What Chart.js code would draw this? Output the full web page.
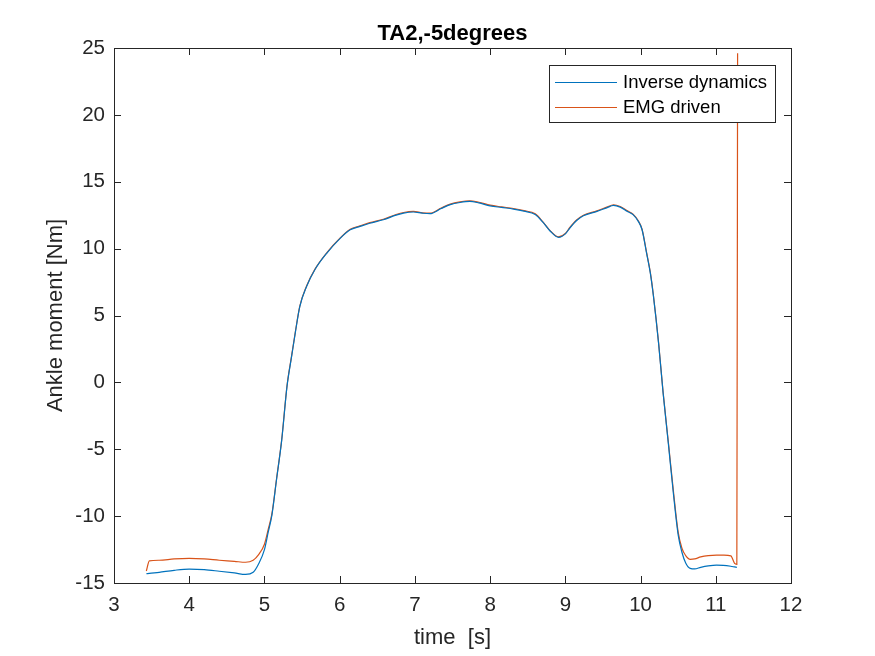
<!DOCTYPE html>
<html>
<head>
<meta charset="utf-8">
<script src="https://cdn.jsdelivr.net/npm/chart.js@4.4.1/dist/chart.umd.min.js"></script>
<style>
  html, body { margin: 0; padding: 0; background: #fff; }
  #wrap { width: 875px; height: 656px; position: relative; }
</style>
</head>
<body>
<div id="wrap"><canvas id="chart"></canvas></div>
<script>
// ---- data ----
const timeS = [3.43, 3.47, 3.6, 3.8, 4.0, 4.2, 4.4, 4.6, 4.75, 4.85, 4.92, 5.0, 5.05, 5.1, 5.16, 5.23, 5.3, 5.36, 5.41, 5.47, 5.56, 5.67, 5.83, 6.01, 6.14, 6.27, 6.4, 6.58, 6.75, 6.85, 6.98, 7.1, 7.2, 7.35, 7.47, 7.6, 7.73, 7.85, 8.0, 8.15, 8.31, 8.45, 8.6, 8.71, 8.8, 8.91, 9.0, 9.06, 9.15, 9.24, 9.42, 9.55, 9.64, 9.73, 9.82, 9.9, 9.97, 10.02, 10.08, 10.13, 10.17, 10.24, 10.3, 10.37, 10.44, 10.5, 10.55, 10.6, 10.66, 10.72, 10.8, 10.9, 11.01, 11.1, 11.2, 11.25, 11.28, 11.29];

const inverseDyn = [-14.31, -14.28, -14.2, -14.05, -13.96, -14.0, -14.12, -14.25, -14.36, -14.2, -13.6, -12.5, -11.2, -9.9, -7.3, -4.3, -0.3, 1.9, 3.7, 5.67, 7.17, 8.42, 9.67, 10.79, 11.41, 11.66, 11.9, 12.16, 12.5, 12.66, 12.74, 12.65, 12.61, 13.0, 13.29, 13.45, 13.53, 13.42, 13.2, 13.08, 12.96, 12.8, 12.55, 11.92, 11.3, 10.84, 11.1, 11.54, 12.1, 12.46, 12.78, 13.05, 13.23, 13.1, 12.8, 12.54, 12.04, 11.41, 9.67, 8.17, 6.5, 2.9, -0.8, -4.6, -8.5, -11.4, -12.7, -13.5, -13.91, -13.95, -13.83, -13.72, -13.66, -13.68, -13.75, -13.8, -13.83, null];

const emgDriven = [-14.1, -13.34, -13.3, -13.2, -13.16, -13.2, -13.3, -13.38, -13.45, -13.3, -12.9, -12.1, -11.0, -9.8, -7.25, -4.25, -0.25, 1.95, 3.75, 5.7, 7.2, 8.45, 9.7, 10.82, 11.45, 11.7, 11.94, 12.2, 12.55, 12.7, 12.78, 12.68, 12.65, 13.04, 13.33, 13.5, 13.58, 13.47, 13.25, 13.12, 13.0, 12.84, 12.6, 11.95, 11.33, 10.88, 11.13, 11.58, 12.14, 12.5, 12.82, 13.1, 13.28, 13.15, 12.84, 12.58, 12.08, 11.45, 9.72, 8.22, 6.55, 2.95, -0.75, -4.5, -8.3, -11.2, -12.4, -12.95, -13.23, -13.2, -13.05, -12.95, -12.91, -12.92, -12.97, -13.53, -13.6, 24.6];

const seriesNames = ['Inverse dynamics', 'EMG driven'];
const seriesColors = ['#0072BD', '#D95319'];
const xTicks = [3, 4, 5, 6, 7, 8, 9, 10, 11, 12];
const yTicks = [-15, -10, -5, 0, 5, 10, 15, 20, 25];

const FONT = '"Liberation Sans", Arial, Helvetica, sans-serif';
const AXIS_COLOR = '#262626';

function toPoints(ys) {
    return timeS.map((t, i) => ({ x: t, y: ys[i] }));
}

// matlab-style box, inward ticks, titles and legend
const matlabBox = {
    id: 'matlabBox',
    afterDraw(chart) {
        const { ctx, chartArea: a, scales } = chart;
        const xs = scales.x, ys = scales.y;
        ctx.save();
        ctx.strokeStyle = AXIS_COLOR;
        ctx.lineWidth = 1;
        ctx.strokeRect(a.left + 0.5, a.top + 0.5, a.right - a.left, a.bottom - a.top);
        const tl = 7;
        ctx.beginPath();
        xTicks.forEach(v => {
            const px = Math.round(xs.getPixelForValue(v)) + 0.5;
            ctx.moveTo(px, a.bottom); ctx.lineTo(px, a.bottom - tl);
            ctx.moveTo(px, a.top); ctx.lineTo(px, a.top + tl);
        });
        yTicks.forEach(v => {
            const py = Math.round(ys.getPixelForValue(v)) + 0.5;
            ctx.moveTo(a.left, py); ctx.lineTo(a.left + tl, py);
            ctx.moveTo(a.right, py); ctx.lineTo(a.right - tl, py);
        });
        ctx.stroke();

        // title
        ctx.fillStyle = '#000';
        ctx.font = 'bold 22px ' + FONT;
        ctx.textAlign = 'center';
        ctx.textBaseline = 'alphabetic';
        ctx.fillText('TA2,-5degrees', (a.left + a.right) / 2, 40);

        // axis titles
        ctx.fillStyle = AXIS_COLOR;
        ctx.font = '22px ' + FONT;
        ctx.fillText('time  [s]', (a.left + a.right) / 2, 644);
        ctx.save();
        ctx.translate(62, (a.top + a.bottom) / 2);
        ctx.rotate(-Math.PI / 2);
        ctx.fillText('Ankle moment [Nm]', 0, 0);
        ctx.restore();

        // legend
        const lx = 549, ly = 65, lw = 226, lh = 57;
        ctx.fillStyle = '#fff';
        ctx.fillRect(lx, ly, lw, lh);
        ctx.strokeStyle = AXIS_COLOR;
        ctx.strokeRect(lx + 0.5, ly + 0.5, lw, lh);
        ctx.font = '18.5px ' + FONT;
        ctx.textAlign = 'left';
        ctx.textBaseline = 'middle';
        chart.data.datasets.forEach((ds, i) => {
            const yy = ly + 17 + i * 25;
            ctx.strokeStyle = ds.borderColor;
            ctx.lineWidth = 1.2;
            ctx.beginPath();
            ctx.moveTo(lx + 6, yy + 0.5); ctx.lineTo(lx + 68, yy + 0.5);
            ctx.stroke();
            ctx.fillStyle = '#000';
            ctx.fillText(ds.label, lx + 74, yy + 1);
        });
        ctx.restore();
    }
};

new Chart(document.getElementById('chart'), {
    type: 'line',
    data: {
        datasets: seriesNames.map((name, i) => ({
            label: name,
            data: toPoints(i === 0 ? inverseDyn : emgDriven),
            borderColor: seriesColors[i],
            backgroundColor: seriesColors[i],
            borderWidth: 1.2,
            pointRadius: 0,
            cubicInterpolationMode: 'monotone',
            spanGaps: false,
            fill: false
        }))
    },
    options: {
        responsive: true,
        maintainAspectRatio: false,
        animation: false,
        layout: { padding: { left: 0, top: 48, right: 84, bottom: 0 } },
        plugins: {
            legend: { display: false },
            title: { display: false },
            tooltip: { enabled: false }
        },
        scales: {
            x: {
                type: 'linear',
                min: 3, max: 12,
                afterFit: (s) => { s.height = 73; },
                afterBuildTicks: (s) => { s.ticks = xTicks.map(v => ({ value: v })); },
                grid: { display: false, drawTicks: false },
                border: { display: false },
                ticks: { color: AXIS_COLOR, font: { family: FONT, size: 20.5 }, padding: 10 }
            },
            y: {
                type: 'linear',
                min: -15, max: 25,
                afterFit: (s) => { s.width = 114; },
                afterBuildTicks: (s) => { s.ticks = yTicks.map(v => ({ value: v })); },
                grid: { display: false, drawTicks: false },
                border: { display: false },
                ticks: { color: AXIS_COLOR, font: { family: FONT, size: 20.5 }, padding: 9 }
            }
        }
    },
    plugins: [matlabBox]
});
</script>
</body>
</html>
